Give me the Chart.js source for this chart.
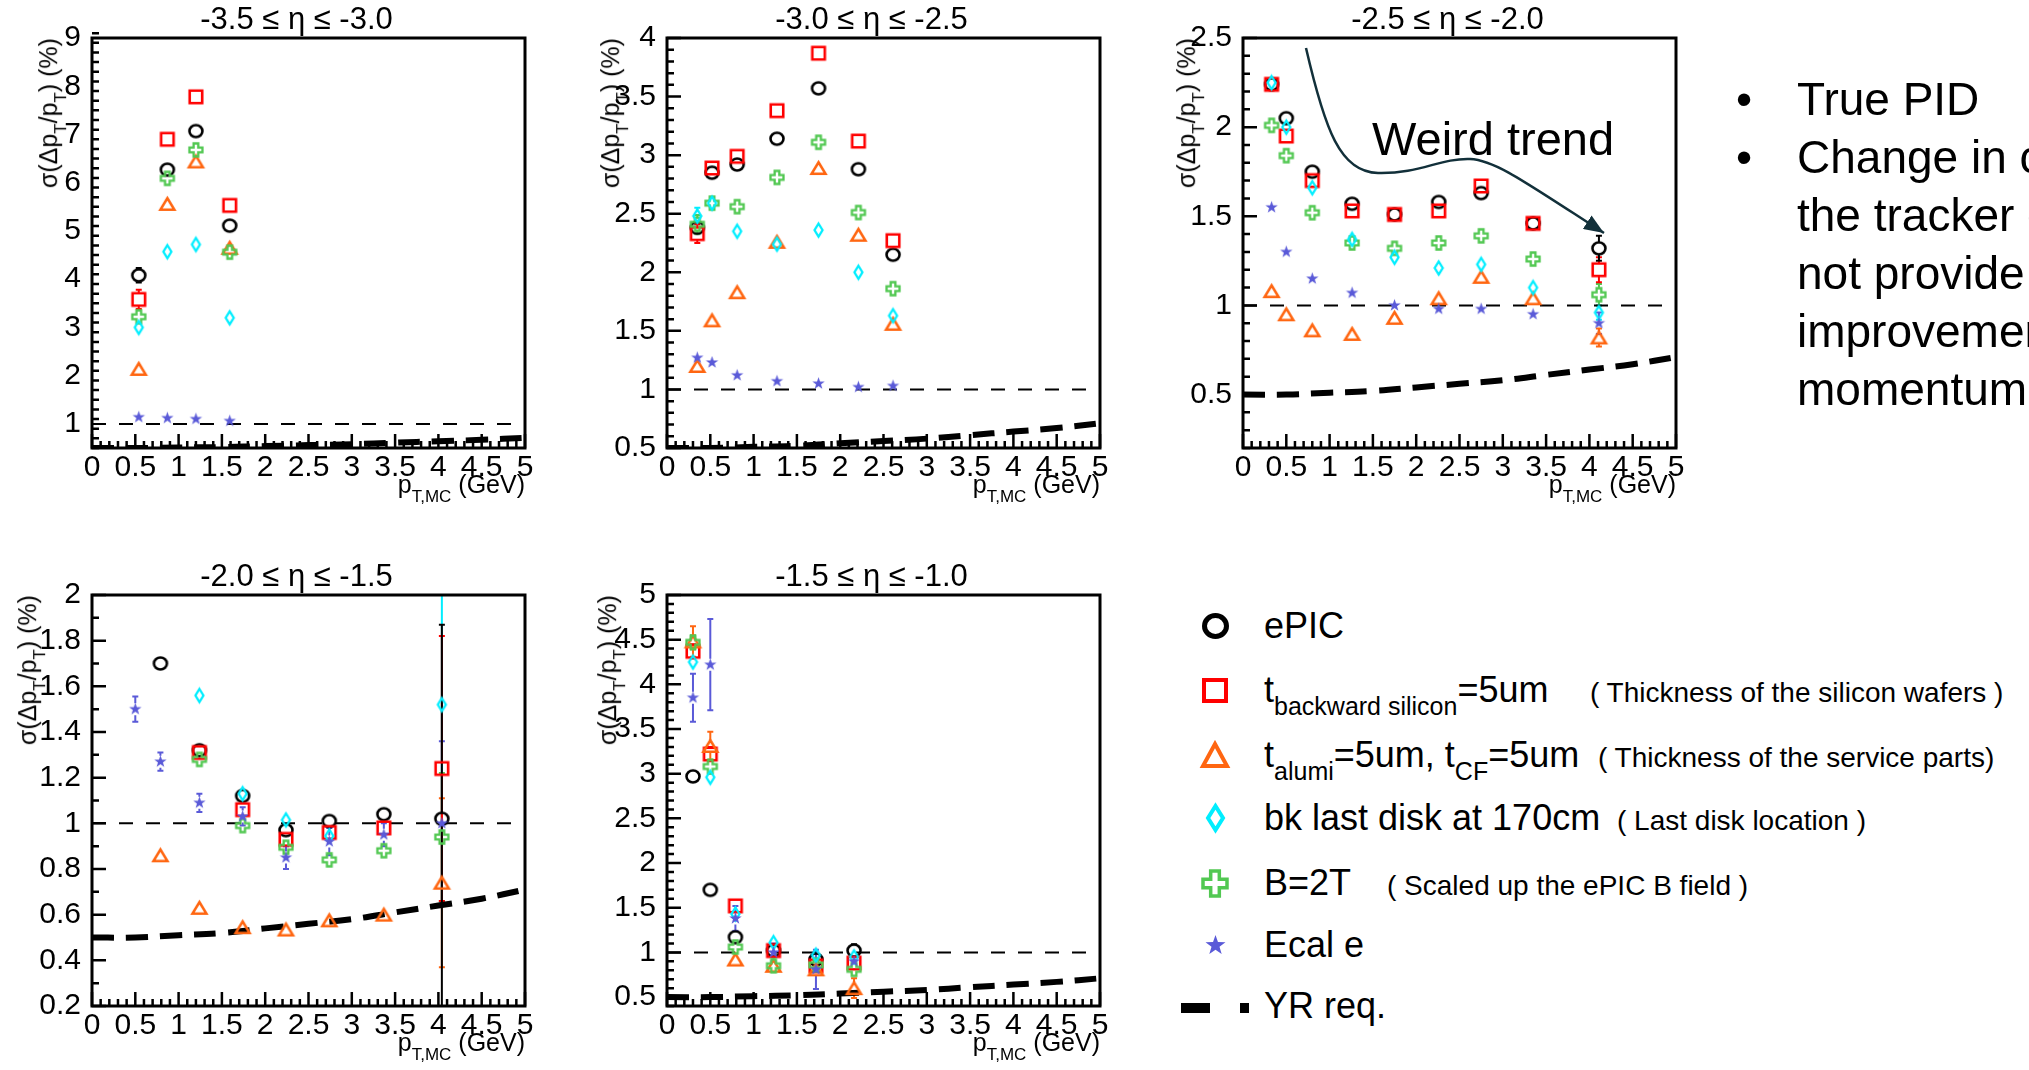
<!DOCTYPE html>
<html>
<head>
<meta charset="utf-8">
<script src="https://cdn.jsdelivr.net/npm/chart.js@4.4.0/dist/chart.umd.min.js"></script>
<style>
body { margin:0; background:#fff; width:2029px; height:1070px; overflow:hidden; position:relative;
       font-family:'Liberation Sans', Arial, Helvetica, sans-serif; color:#000; }
.panel { position:absolute; }
.ytitle { position:absolute; width:0; height:0; }
.ytitle span { position:absolute; right:0; top:0; white-space:nowrap; font-size:25px; line-height:28px;
               transform-origin:top right; transform:rotate(-90deg); }
.xtitle { position:absolute; white-space:nowrap; font-size:25px; line-height:26px; text-align:right; }
.xtitle sub, .ytitle sub { font-size:17px; vertical-align:-9px; line-height:0; }
.lg { position:absolute; white-space:nowrap; font-size:36px; line-height:36px; }
.lg sub { font-size:25px; vertical-align:-13px; line-height:0; }
.note { position:absolute; white-space:nowrap; font-size:28px; line-height:28px; }
.bl { position:absolute; white-space:nowrap; font-size:46px; line-height:58px; }
</style>
</head>
<body>
<svg id="arrow" width="2029" height="1070" style="position:absolute;left:0;top:0;z-index:3;pointer-events:none">
  <defs>
    <marker id="ah" markerWidth="20" markerHeight="16" refX="20" refY="8" orient="auto" markerUnits="userSpaceOnUse">
      <path d="M0,0 L20,8 L0,16 z" fill="#12303a"/>
    </marker>
  </defs>
  <path d="M1306,48 C1325,130 1340,172 1378,173 C1420,174 1440,158 1470,159 C1495,160 1525,182 1604,233"
        stroke="#12303a" stroke-width="2.5" fill="none" marker-end="url(#ah)"/>
</svg>
<div style="position:absolute;left:1372px;top:115px;font-size:47px;line-height:47px;z-index:3;white-space:nowrap">Weird trend</div>

<script>
// x positions (pT bins) and sigma(dpT/pT) values, one panel at a time

// -3.5 <= eta <= -3.0
const p1X      = [0.54, 0.87, 1.20, 1.59];
const p1Epic   = [4.08, 6.27, 7.07, 5.11];
const p1Back   = [3.58, 6.90, 7.78, 5.53];
const p1Alumi  = [2.14, 5.56, 6.44, 4.65];
const p1Disk   = [3.00, 4.57, 4.72, 3.20];
const p1B2T    = [3.22, 6.09, 6.68, 4.56];
const p1Ecal   = [1.14, 1.12, 1.10, 1.06];
const p1EpicE  = [0.15, 0, 0, 0];
const p1BackE  = [0.20, 0, 0, 0];
const p1AlumiE = [0.10, 0, 0, 0];
const p1DiskE  = [0.10, 0, 0, 0];
const p1B2TE   = [0.12, 0, 0, 0];
const p1EcalE  = [0.04, 0, 0, 0];

// -3.0 <= eta <= -2.5
const p2X      = [0.35, 0.52, 0.81, 1.27, 1.75, 2.21, 2.61];
const p2Epic   = [2.38, 2.85, 2.92, 3.14, 3.57, 2.88, 2.15];
const p2Back   = [2.33, 2.89, 2.99, 3.38, 3.87, 3.12, 2.27];
const p2Alumi  = [1.20, 1.59, 1.83, 2.26, 2.89, 2.32, 1.56];
const p2Disk   = [2.48, 2.59, 2.35, 2.24, 2.36, 2.00, 1.63];
const p2B2T    = [2.41, 2.59, 2.56, 2.81, 3.11, 2.51, 1.86];
const p2Ecal   = [1.27, 1.23, 1.12, 1.07, 1.05, 1.02, 1.03];
const p2BackE  = [0.08, 0, 0, 0, 0, 0, 0];
const p2AlumiE = [0.05, 0, 0, 0, 0, 0, 0];
const p2DiskE  = [0.07, 0, 0, 0, 0, 0, 0];
const p2B2TE   = [0.08, 0, 0, 0, 0, 0, 0];
const p2EcalE  = [0.04, 0, 0, 0, 0, 0, 0];

// -2.5 <= eta <= -2.0
const p3X      = [0.33, 0.50, 0.80, 1.26, 1.75, 2.26, 2.75, 3.35, 4.11];
const p3Epic   = [2.24, 2.05, 1.75, 1.57, 1.51, 1.58, 1.63, 1.46, 1.32];
const p3Back   = [2.24, 1.95, 1.70, 1.53, 1.51, 1.53, 1.67, 1.46, 1.20];
const p3Alumi  = [1.08, 0.95, 0.86, 0.84, 0.93, 1.04, 1.16, 1.04, 0.82];
const p3Disk   = [2.25, 2.00, 1.66, 1.37, 1.27, 1.21, 1.23, 1.10, 0.96];
const p3B2T    = [2.01, 1.84, 1.52, 1.35, 1.32, 1.35, 1.39, 1.26, 1.06];
const p3Ecal   = [1.55, 1.30, 1.15, 1.07, 1.00, 0.98, 0.98, 0.95, 0.90];
const p3EpicE  = [0, 0, 0, 0, 0, 0, 0, 0, 0.07];
const p3BackE  = [0, 0, 0, 0, 0, 0, 0, 0, 0.07];
const p3AlumiE = [0, 0, 0, 0, 0, 0, 0, 0, 0.05];
const p3DiskE  = [0, 0, 0, 0, 0, 0, 0, 0, 0.04];
const p3B2TE   = [0, 0, 0, 0, 0, 0, 0, 0, 0.06];
const p3EcalE  = [0.03, 0.02, 0, 0, 0, 0, 0, 0, 0.06];

// -2.0 <= eta <= -1.5
const p4X      = [0.50, 0.79, 1.24, 1.74, 2.24, 2.74, 3.37, 4.04];
const p4Epic   = [null, 1.70, 1.32, 1.12, 0.97, 1.01, 1.04, 1.02];
const p4Back   = [null, null, 1.31, 1.06, 0.93, 0.96, 0.98, 1.24];
const p4Alumi  = [null, 0.86, 0.63, 0.545, 0.535, 0.575, 0.60, 0.74];
const p4Disk   = [null, null, 1.56, 1.13, 1.015, 0.945, null, 1.52];
const p4B2T    = [null, null, 1.28, 0.99, 0.895, 0.84, 0.88, 0.94];
const p4Ecal   = [1.50, 1.27, 1.09, 1.03, 0.85, 0.92, 0.95, 1.00];
const p4EpicE  = [0, 0, 0, 0, 0, 0, 0, 0.85];
const p4BackE  = [0, 0, 0, 0, 0, 0, 0, 0.58];
const p4AlumiE = [0, 0, 0, 0, 0, 0, 0, 0.37];
const p4DiskE  = [0, 0, 0, 0, 0, 0, 0, 0.87];
const p4B2TE   = [0, 0, 0, 0, 0, 0, 0, 0.28];
const p4EcalE  = [0.055, 0.04, 0.04, 0.04, 0.05, 0.06, 0.05, 0.36];

// -1.5 <= eta <= -1.0
const p5X      = [0.30, 0.50, 0.79, 1.23, 1.72, 2.16];
const p5Epic   = [2.97, 1.70, 1.17, 1.02, 0.92, 1.02];
const p5Back   = [4.37, 3.22, 1.52, 1.02, 0.85, 0.88];
const p5Alumi  = [4.48, 3.31, 0.92, 0.85, 0.81, 0.60];
const p5Disk   = [4.25, 2.96, 1.43, 1.11, 0.97, 0.95];
const p5B2T    = [4.47, 3.08, 1.06, 0.85, 0.86, 0.81];
const p5Ecal   = [3.85, 4.22, 1.38, 1.00, 0.81, 0.90];
const p5EpicE  = [0.06, 0, 0, 0, 0, 0.07];
const p5BackE  = [0.08, 0.08, 0, 0, 0, 0.06];
const p5AlumiE = [0.17, 0.16, 0, 0, 0, 0.11];
const p5DiskE  = [0.06, 0.06, 0, 0, 0, 0.05];
const p5B2TE   = [0.08, 0.08, 0, 0, 0, 0.05];
const p5EcalE  = [0.27, 0.51, 0.14, 0.10, 0.22, 0.05];

// YR requirement curve and the 1% reference line
const yrX  = [0, 0.5, 1, 1.5, 2, 2.5, 3, 3.5, 4, 4.5, 5];
const yrY  = [0.50, 0.50, 0.51, 0.52, 0.54, 0.56, 0.58, 0.61, 0.64, 0.67, 0.71];
const refX = [0, 5];
const refY = [1, 1];

const FONT = "'Liberation Sans', Arial, Helvetica, sans-serif";

// marker shapes drawn once into small canvases (ROOT-like open symbols)
function makeMarker(kind, color, w, h, lw) {
  const cv = document.createElement('canvas');
  cv.width = Math.ceil(w + lw + 4);
  cv.height = Math.ceil(h + lw + 4);
  const g = cv.getContext('2d');
  const cx = cv.width / 2, cy = cv.height / 2, rx = w / 2, ry = h / 2;
  g.strokeStyle = color; g.fillStyle = color; g.lineWidth = lw;
  g.beginPath();
  if (kind === 'circle') {
    g.ellipse(cx, cy, rx, ry, 0, 0, Math.PI * 2);
  } else if (kind === 'square') {
    g.rect(cx - rx, cy - ry, w, h);
  } else if (kind === 'triangle') {
    g.moveTo(cx, cy - ry); g.lineTo(cx + rx, cy + ry); g.lineTo(cx - rx, cy + ry); g.closePath();
  } else if (kind === 'diamond') {
    g.moveTo(cx, cy - ry); g.lineTo(cx + rx, cy); g.lineTo(cx, cy + ry); g.lineTo(cx - rx, cy); g.closePath();
  } else if (kind === 'cross') {
    const a = w * 0.18;
    const p = [[-a,-ry],[a,-ry],[a,-a],[rx,-a],[rx,a],[a,a],[a,ry],[-a,ry],[-a,a],[-rx,a],[-rx,-a],[-a,-a]];
    p.forEach((q, i) => i ? g.lineTo(cx + q[0], cy + q[1]) : g.moveTo(cx + q[0], cy + q[1]));
    g.closePath();
  } else if (kind === 'star') {
    for (let i = 0; i < 10; i++) {
      const ang = -Math.PI / 2 + i * Math.PI / 5;
      const f = i % 2 ? 0.4 : 1;
      const px = cx + Math.cos(ang) * rx * f, py = cy + Math.sin(ang) * ry * f;
      i ? g.lineTo(px, py) : g.moveTo(px, py);
    }
    g.closePath(); g.fill();
    return cv;
  }
  g.stroke();
  return cv;
}

// the six series: drawing order is top -> bottom (dataset 0 is painted last)
const seriesStyle = [
  { key:'ecal',  kind:'star',     color:'#5a5ad8', w:13,   h:13,   lw:0,   lg:[21, 21, 0] },
  { key:'disk',  kind:'diamond',  color:'#00eeff', w:8,    h:13,   lw:2.3, lg:[15, 24, 4] },
  { key:'b2t',   kind:'cross',    color:'#52c852', w:13,   h:13,   lw:2.3, lg:[24, 25, 3.5] },
  { key:'alumi', kind:'triangle', color:'#ff6611', w:14,   h:11.5, lw:2.5, lg:[24, 22, 4] },
  { key:'back',  kind:'square',   color:'#ff0000', w:12.5, h:12.5, lw:2.6, lg:[22, 21, 4] },
  { key:'epic',  kind:'circle',   color:'#000000', w:13,   h:12,   lw:2.6, lg:[22, 21, 5] }
];

const panels = [
  { left:92,   top:38,  h:410, title:'-3.5 ≤ η ≤ -3.0', yMin:0.5, yMax:9, yStep:1,   yMinor:0.2, yOff:44, x:p1X,
    s:{ epic:[p1Epic,p1EpicE], back:[p1Back,p1BackE], alumi:[p1Alumi,p1AlumiE], disk:[p1Disk,p1DiskE], b2t:[p1B2T,p1B2TE], ecal:[p1Ecal,p1EcalE] } },
  { left:667,  top:38,  h:410, title:'-3.0 ≤ η ≤ -2.5', yMin:0.5, yMax:4, yStep:0.5, yMinor:0.1, yOff:57, x:p2X,
    s:{ epic:[p2Epic,null], back:[p2Back,p2BackE], alumi:[p2Alumi,p2AlumiE], disk:[p2Disk,p2DiskE], b2t:[p2B2T,p2B2TE], ecal:[p2Ecal,p2EcalE] } },
  { left:1243, top:38,  h:410, title:'-2.5 ≤ η ≤ -2.0', yMin:0.2, yMax:2.5, yStep:0.5, yMinor:0.1, yOff:57, x:p3X,
    s:{ epic:[p3Epic,p3EpicE], back:[p3Back,p3BackE], alumi:[p3Alumi,p3AlumiE], disk:[p3Disk,p3DiskE], b2t:[p3B2T,p3B2TE], ecal:[p3Ecal,p3EcalE] } },
  { left:92,   top:595, h:411, title:'-2.0 ≤ η ≤ -1.5', yMin:0.2, yMax:2, yStep:0.2, yMinor:0.1, yOff:65, x:p4X,
    s:{ epic:[p4Epic,p4EpicE], back:[p4Back,p4BackE], alumi:[p4Alumi,p4AlumiE], disk:[p4Disk,p4DiskE], b2t:[p4B2T,p4B2TE], ecal:[p4Ecal,p4EcalE] } },
  { left:667,  top:595, h:411, title:'-1.5 ≤ η ≤ -1.0', yMin:0.4, yMax:5, yStep:0.5, yMinor:0.1, yOff:60, x:p5X,
    s:{ epic:[p5Epic,p5EpicE], back:[p5Back,p5BackE], alumi:[p5Alumi,p5AlumiE], disk:[p5Disk,p5DiskE], b2t:[p5B2T,p5B2TE], ecal:[p5Ecal,p5EcalE] } }
];

function pts(xs, ys, es) {
  return xs.map((x, i) => ({ x: x, y: ys[i], e: es ? es[i] : 0 })).filter(p => p.y != null);
}

// ROOT style frame with inside ticks on the left and bottom axes, plus the pad title
const frame = {
  id: 'frame',
  afterDraw(chart, args, o) {
    const { ctx, chartArea: a, scales: { x, y } } = chart;
    ctx.save();
    ctx.strokeStyle = '#000';
    ctx.lineWidth = 2.5;
    ctx.beginPath();
    const axTicks = (sc, minor, major, horiz) => {
      const n = Math.round((sc.max - sc.min) / minor);
      for (let i = 0; i <= n; i++) {
        const v = sc.min + i * minor;
        const isMajor = Math.abs(v / major - Math.round(v / major)) < 1e-6;
        const len = isMajor ? 14 : 7;
        const p = sc.getPixelForValue(v);
        if (horiz) { ctx.moveTo(p, a.bottom); ctx.lineTo(p, a.bottom - len); }
        else { ctx.moveTo(a.left, p); ctx.lineTo(a.left + len, p); }
      }
    };
    axTicks(x, 0.1, 0.5, true);
    axTicks(y, o.yMinor, o.yStep, false);
    ctx.stroke();
    ctx.lineWidth = 3;
    ctx.strokeRect(a.left, a.top, a.right - a.left, a.bottom - a.top);
    // pad title, ROOT puts it a little left of the frame centre
    ctx.fillStyle = '#000';
    ctx.font = '31px ' + FONT;
    ctx.textAlign = 'center';
    ctx.textBaseline = 'middle';
    ctx.fillText(o.title, (a.left + a.right) / 2 - 12, a.top - 18);
    ctx.restore();
  }
};

// vertical error bars, with a gap so the open markers stay clean
const errorBars = {
  id: 'errorBars',
  beforeDatasetsDraw(chart) {
    const { ctx, chartArea: a, scales: { y } } = chart;
    ctx.save();
    ctx.beginPath();
    ctx.rect(a.left, a.top, a.right - a.left, a.bottom - a.top);
    ctx.clip();
    chart.data.datasets.forEach((ds, i) => {
      if (!ds.errColor) return;
      const meta = chart.getDatasetMeta(i);
      ctx.strokeStyle = ds.errColor;
      ctx.lineWidth = 2;
      meta.data.forEach((pt, j) => {
        const d = ds.data[j];
        if (!d.e) return;
        const top = y.getPixelForValue(d.y + d.e);
        const bot = y.getPixelForValue(d.y - d.e);
        const gap = 6;
        ctx.beginPath();
        if (pt.y - top > gap) {
          ctx.moveTo(pt.x, top); ctx.lineTo(pt.x, pt.y - gap);
          ctx.moveTo(pt.x - 3, top); ctx.lineTo(pt.x + 3, top);
        }
        if (bot - pt.y > gap) {
          ctx.moveTo(pt.x, pt.y + gap); ctx.lineTo(pt.x, bot);
          ctx.moveTo(pt.x - 3, bot); ctx.lineTo(pt.x + 3, bot);
        }
        ctx.stroke();
      });
    });
    ctx.restore();
  }
};

const fmt = v => String(Math.round(v * 100) / 100);
// labelled ticks only at multiples of the major step inside [min, max]
const majorTicks = step => scale => {
  const out = [];
  const n0 = Math.ceil(scale.min / step - 1e-6), n1 = Math.floor(scale.max / step + 1e-6);
  for (let n = n0; n <= n1; n++) out.push({ value: Math.round(n * step * 1000) / 1000 });
  scale.ticks = out;
};

panels.forEach((p, k) => {
  const W = 600, H = 38 + p.h + 60;
  const box = document.createElement('div');
  box.className = 'panel';
  box.style.left = (p.left - 92) + 'px';
  box.style.top = (p.top - 38) + 'px';
  const cv = document.createElement('canvas');
  cv.width = W; cv.height = H;
  box.appendChild(cv);
  document.body.appendChild(box);

  const datasets = seriesStyle.map(st => ({
    label: st.key,
    data: pts(p.x, p.s[st.key][0], p.s[st.key][1]),
    pointStyle: makeMarker(st.kind, st.color, st.w, st.h, st.lw),
    pointRadius: 6,
    errColor: st.color,
    showLine: false
  }));
  datasets.push({
    label: 'YR req.', data: pts(yrX, yrY), showLine: true, borderColor: '#000', borderWidth: 6,
    borderDash: [22, 12], pointRadius: 0, tension: 0.4, fill: false
  });
  datasets.push({
    label: 'ref', data: pts(refX, refY), showLine: true, borderColor: '#000', borderWidth: 2,
    borderDash: [14, 13], pointRadius: 0, fill: false
  });

  new Chart(cv, {
    type: 'scatter',
    data: { datasets },
    options: {
      responsive: false,
      animation: false,
      devicePixelRatio: 1,
      layout: { padding: { left: 0, right: W - 92 - 433, top: 38, bottom: 0 }, autoPadding: false },
      plugins: {
        legend: { display: false },
        tooltip: { enabled: false },
        frame: { yMinor: p.yMinor, yStep: p.yStep, title: p.title }
      },
      scales: {
        x: {
          type: 'linear', min: 0, max: 5,
          grid: { display: false }, border: { display: false },
          ticks: { stepSize: 0.5, autoSkip: false, maxRotation: 0, minRotation: 0, padding: -6,
                   color: '#000', font: { family: FONT, size: 30 }, callback: fmt },
          afterBuildTicks: majorTicks(0.5),
          afterFit: s => { s.height = 60; }
        },
        y: {
          type: 'linear', min: p.yMin, max: p.yMax,
          grid: { display: false }, border: { display: false },
          ticks: { stepSize: p.yStep, autoSkip: false, padding: 3,
                   color: '#000', font: { family: FONT, size: 30 }, callback: fmt },
          afterBuildTicks: majorTicks(p.yStep),
          afterFit: s => { s.width = 92; }
        }
      }
    },
    plugins: [frame, errorBars]
  });

  // axis titles with sub-scripts
  const yt = document.createElement('div');
  yt.className = 'ytitle';
  yt.style.left = (p.left - p.yOff - 14) + 'px';
  yt.style.top = p.top + 'px';
  yt.innerHTML = '<span>σ(Δp<sub>T</sub>/p<sub>T</sub>) (%)</span>';
  document.body.appendChild(yt);

  const xt = document.createElement('div');
  xt.className = 'xtitle';
  xt.style.right = (2029 - (p.left + 433)) + 'px';
  xt.style.top = (p.top + p.h + 23) + 'px';
  xt.innerHTML = 'p<sub>T,MC</sub> (GeV)';
  document.body.appendChild(xt);
});

// legend block (bottom right)
const legendRows = [
  { key:'epic',  cy:626, html:'ePIC' },
  { key:'back',  cy:690, html:'t<sub>backward silicon</sub>=5um', note:'( Thickness of the silicon wafers )', nx:1590 },
  { key:'alumi', cy:755, html:'t<sub>alumi</sub>=5um, t<sub>CF</sub>=5um', note:'( Thickness of the service parts)', nx:1598 },
  { key:'disk',  cy:818, html:'bk last disk at 170cm', note:'( Last disk location )', nx:1617 },
  { key:'b2t',   cy:883, html:'B=2T', note:'( Scaled up the ePIC B field )', nx:1387 },
  { key:'ecal',  cy:945, html:'Ecal e' }
];
legendRows.forEach(r => {
  const st = seriesStyle.find(s => s.key === r.key);
  const m = makeMarker(st.kind, st.color, st.lg[0], st.lg[1], st.lg[2]);
  m.style.position = 'absolute';
  m.style.left = (1215 - m.width / 2) + 'px';
  m.style.top = (r.cy - m.height / 2) + 'px';
  document.body.appendChild(m);
  const t = document.createElement('div');
  t.className = 'lg';
  t.style.left = '1264px';
  t.style.top = (r.cy - 18) + 'px';
  t.innerHTML = r.html;
  document.body.appendChild(t);
  if (r.note) {
    const n = document.createElement('div');
    n.className = 'note';
    n.style.left = r.nx + 'px';
    n.style.top = (r.cy + 3 - 14) + 'px';
    n.textContent = r.note;
    document.body.appendChild(n);
  }
});
</script>

<!-- YR req. legend entry: thick dash sample -->
<div style="position:absolute;left:1181px;top:1003px;width:29px;height:10px;background:#000"></div>
<div style="position:absolute;left:1240px;top:1003px;width:9px;height:10px;background:#000"></div>
<div class="lg" style="left:1264px;top:988px">YR req.</div>

<!-- bullet notes, cut by the right edge as in the slide -->
<div class="bl" style="left:1736px;top:70px">•</div>
<div class="bl" style="left:1797px;top:70px">True PID</div>
<div class="bl" style="left:1736px;top:128px">•</div>
<div class="bl" style="left:1797px;top:128px">Change in configuration of</div>
<div class="bl" style="left:1797px;top:186px">the tracker does</div>
<div class="bl" style="left:1797px;top:244px">not provide any</div>
<div class="bl" style="left:1797px;top:302px">improvement in</div>
<div class="bl" style="left:1797px;top:360px">momentum resolution</div>
</body>
</html>
